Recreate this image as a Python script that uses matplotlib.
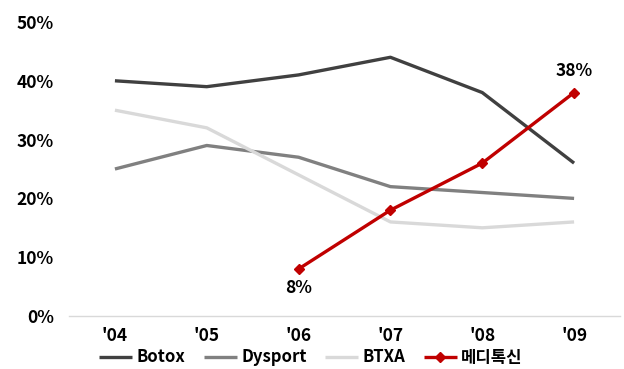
import matplotlib
matplotlib.use("Agg")
import matplotlib.pyplot as plt
from matplotlib.ticker import FuncFormatter

plt.rcParams['font.family'] = ['Noto Sans CJK KR', 'DejaVu Sans']

years = ["'04", "'05", "'06", "'07", "'08", "'09"]
botox = [40, 39, 41, 44, 38, 26]
dysport = [25, 29, 27, 22, 21, 20]
btxa = [35, 32, 24, 16, 15, 16]
medytox_years = ["'06", "'07", "'08", "'09"]
medytox = [8, 18, 26, 38]
series_names = ["Botox", "Dysport", "BTXA", "메디톡신"]

fig = plt.figure(figsize=(6.24, 3.69), dpi=100)
ax = fig.add_axes([0.1106, 0.1436, 0.883, 0.7968])

x = list(range(len(years)))
xm = [years.index(y) for y in medytox_years]
lw = 2.4
ax.plot(x, botox, color='#404040', lw=lw, label=series_names[0], solid_capstyle='butt')
ax.plot(x, dysport, color='#808080', lw=lw, label=series_names[1], solid_capstyle='butt')
ax.plot(x, btxa, color='#d9d9d9', lw=lw, label=series_names[2], solid_capstyle='butt')
ax.plot(xm, medytox, color='#c00000', lw=lw, marker='D', ms=5.5, label=series_names[3], solid_capstyle='butt')

fs = 12.5
ax.annotate(f"{medytox[0]}%", (xm[0], medytox[0]), xytext=(0, -7), textcoords='offset points',
            ha='center', va='top', fontsize=fs, fontweight='bold')
ax.annotate(f"{medytox[-1]}%", (xm[-1], medytox[-1]), xytext=(0, 9), textcoords='offset points',
            ha='center', va='bottom', fontsize=fs, fontweight='bold')

ax.set_xlim(-0.5, len(years) - 0.5)
ax.set_ylim(0, 50)
ax.set_yticks(range(0, 51, 10))
ax.yaxis.set_major_formatter(FuncFormatter(lambda v, p: f"{int(v)}%"))
ax.set_xticks(x)
ax.set_xticklabels(years)
for lab in ax.get_xticklabels() + ax.get_yticklabels():
    lab.set_fontweight('bold')
    lab.set_fontsize(fs)
ax.tick_params(axis='both', length=0)
ax.tick_params(axis='y', pad=11)
ax.tick_params(axis='x', pad=8)
for s in ['top', 'right', 'left']:
    ax.spines[s].set_visible(False)
ax.spines['bottom'].set_color('#d9d9d9')
ax.spines['bottom'].set_linewidth(1)

handles, labels = ax.get_legend_handles_labels()
fig.legend(handles, labels, loc='lower center', bbox_to_anchor=(0.498, 0.0), ncol=4, frameon=False,
           borderaxespad=0.0, borderpad=0.15,
           handlelength=2.0, handletextpad=0.25, columnspacing=1.1,
           prop={'weight': 'bold', 'size': 12})

fig.savefig('out.png', dpi=100)
